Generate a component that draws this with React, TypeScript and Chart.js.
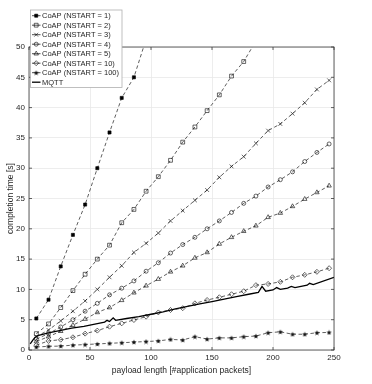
import React, { useEffect, useRef } from "react";
import { Chart, registerables } from "chart.js";

Chart.register(...registerables);

// ---- data ----
const coapX = [6, 16, 26, 36, 46, 56, 66, 76, 86, 96, 106, 116, 126, 136, 146, 156, 166, 176, 186, 196, 206, 216, 226, 236, 246];

const nstart1 = [5.2, 8.3, 13.8, 19.0, 24.0, 30.0, 35.9, 41.6, 45.0, 51.3];
const nstart2 = [2.7, 4.3, 7.0, 9.8, 12.5, 15.0, 17.3, 21.0, 23.2, 26.2, 28.6, 31.3, 34.3, 36.8, 39.5, 42.1, 45.2, 47.6, 51.0];
const nstart3 = [2.2, 3.3, 4.8, 6.4, 8.1, 10.0, 12.0, 13.9, 16.1, 17.6, 19.3, 21.3, 23.0, 24.7, 26.4, 28.5, 30.3, 31.9, 34.1, 36.2, 37.3, 39.0, 40.8, 43.0, 44.5];
const nstart4 = [1.8, 2.7, 3.8, 5.0, 6.4, 7.7, 9.1, 10.2, 11.4, 13.0, 14.4, 16.0, 17.4, 18.6, 20.0, 21.3, 22.7, 24.2, 25.4, 26.9, 28.1, 29.4, 31.1, 32.6, 34.0];
const nstart5 = [1.4, 2.2, 3.1, 4.1, 5.1, 6.2, 7.0, 8.2, 9.45, 10.6, 11.7, 12.9, 13.9, 15.2, 16.1, 17.5, 18.6, 19.6, 20.5, 21.9, 22.6, 23.7, 24.9, 26.0, 27.1];
const nstart10 = [0.8, 1.5, 1.7, 2.1, 2.7, 3.2, 3.85, 4.4, 4.95, 5.5, 6.2, 6.6, 6.9, 7.7, 8.25, 8.7, 9.2, 9.7, 10.7, 10.9, 11.25, 12.0, 12.4, 12.9, 13.5];
const nstart100 = [0.5, 0.6, 0.65, 0.8, 0.9, 1.0, 1.1, 1.2, 1.3, 1.4, 1.5, 1.75, 1.65, 2.2, 1.8, 2.0, 2.0, 2.2, 2.3, 2.85, 3.0, 2.6, 2.6, 2.85, 2.9];

const mqttX = [1, 3, 5, 8, 15, 25, 35, 45, 55, 62, 64, 66, 69, 71, 80, 90, 100, 110, 120, 130, 140, 150, 160, 170, 180, 188, 191, 194, 200, 203, 206, 212, 215, 218, 228, 230, 233, 250];
const mqttY = [1.0, 1.6, 2.1, 2.4, 2.8, 3.2, 3.6, 3.9, 4.3, 4.6, 4.9, 4.7, 5.3, 4.9, 5.2, 5.5, 5.9, 6.3, 6.8, 7.2, 7.6, 8.0, 8.4, 8.8, 9.2, 9.5, 10.5, 9.7, 9.9, 10.3, 10.0, 10.2, 10.5, 10.3, 10.7, 11.0, 10.8, 12.0];

const xTicks = [0, 50, 100, 150, 200, 250];
const yTicks = [0, 5, 10, 15, 20, 25, 30, 35, 40, 45, 50];

const seriesLabels = [
  "CoAP (NSTART = 1)",
  "CoAP (NSTART = 2)",
  "CoAP (NSTART = 3)",
  "CoAP (NSTART = 4)",
  "CoAP (NSTART = 5)",
  "CoAP (NSTART = 10)",
  "CoAP (NSTART = 100)",
  "MQTT",
];

const FONT = "'Liberation Sans', Arial, Helvetica, sans-serif";
const TEXT = "#262626";

function makeStar(size: number): HTMLCanvasElement {
  const c = document.createElement("canvas");
  c.width = size;
  c.height = size;
  const g = c.getContext("2d")!;
  const cx = size / 2, cy = size / 2 + 0.3;
  const ro = size / 2 - 0.2, ri = ro * 0.42;
  g.beginPath();
  for (let i = 0; i < 10; i++) {
    const r = i % 2 === 0 ? ro : ri;
    const a = -Math.PI / 2 + (i * Math.PI) / 5;
    const px = cx + r * Math.cos(a), py = cy + r * Math.sin(a);
    if (i === 0) g.moveTo(px, py); else g.lineTo(px, py);
  }
  g.closePath();
  g.fillStyle = "#111";
  g.fill();
  return c;
}

type Marker = { style: any; radius: number; filled: boolean };

function drawMarker(ctx: CanvasRenderingContext2D, m: Marker, x: number, y: number) {
  ctx.save();
  ctx.strokeStyle = "#000";
  ctx.fillStyle = "#000";
  ctx.lineWidth = 0.6;
  const r = m.radius;
  if (m.style instanceof HTMLCanvasElement) {
    ctx.drawImage(m.style, x - m.style.width / 2, y - m.style.height / 2);
    ctx.restore();
    return;
  }
  ctx.beginPath();
  switch (m.style) {
    case "rect": {
      const s = r * Math.SQRT1_2;
      ctx.rect(x - s, y - s, 2 * s, 2 * s);
      break;
    }
    case "rectRot": {
      ctx.moveTo(x, y - r); ctx.lineTo(x + r, y); ctx.lineTo(x, y + r); ctx.lineTo(x - r, y); ctx.closePath();
      break;
    }
    case "circle":
      ctx.arc(x, y, r, 0, Math.PI * 2);
      break;
    case "triangle": {
      ctx.moveTo(x, y - r); ctx.lineTo(x + r * 0.866, y + r * 0.5); ctx.lineTo(x - r * 0.866, y + r * 0.5); ctx.closePath();
      break;
    }
    case "crossRot": {
      const s = r * Math.SQRT1_2;
      ctx.moveTo(x - s, y - s); ctx.lineTo(x + s, y + s);
      ctx.moveTo(x + s, y - s); ctx.lineTo(x - s, y + s);
      break;
    }
  }
  if (m.filled) ctx.fill();
  ctx.stroke();
  ctx.restore();
}

export default function App() {
  const ref = useRef<HTMLCanvasElement | null>(null);

  useEffect(() => {
    document.body.style.margin = "0";
    const star = makeStar(6);
    const markers: (Marker | null)[] = [
      { style: "rect", radius: 2.2, filled: true },
      { style: "rect", radius: 2.7, filled: false },
      { style: "crossRot", radius: 2.7, filled: false },
      { style: "circle", radius: 2.0, filled: false },
      { style: "triangle", radius: 2.6, filled: false },
      { style: "rectRot", radius: 2.5, filled: false },
      { style: star, radius: 3.0, filled: true },
      null,
    ];
    const coapSeries = [nstart1, nstart2, nstart3, nstart4, nstart5, nstart10, nstart100];

    const datasets: any[] = coapSeries.map((vals, i) => {
      const m = markers[i]!;
      return {
        label: seriesLabels[i],
        data: vals.map((v, k) => ({ x: coapX[k], y: v })),
        borderColor: "#1a1a1a",
        borderWidth: 0.7,
        borderDash: [3.5, 2.5],
        pointStyle: m.style,
        pointRadius: m.radius,
        pointBorderWidth: 0.6,
        pointBorderColor: "#000",
        pointBackgroundColor: m.filled ? "#000" : "rgba(0,0,0,0)",
        fill: false,
        tension: 0,
      };
    });
    datasets.push({
      label: seriesLabels[7],
      data: mqttY.map((v, k) => ({ x: mqttX[k], y: v })),
      borderColor: "#000",
      borderWidth: 1.3,
      pointRadius: 0,
      fill: false,
      tension: 0,
    });

    const framePlugin = {
      id: "frame",
      afterDatasetsDraw(chart: any) {
        const { ctx, chartArea: a, scales } = chart;
        ctx.save();
        ctx.strokeStyle = "#3a3a3a";
        ctx.lineWidth = 0.8;
        ctx.strokeRect(a.left, a.top, a.right - a.left, a.bottom - a.top);
        ctx.beginPath();
        xTicks.forEach((t) => {
          const px = scales.x.getPixelForValue(t);
          ctx.moveTo(px, a.bottom); ctx.lineTo(px, a.bottom - 3);
          ctx.moveTo(px, a.top); ctx.lineTo(px, a.top + 3);
        });
        yTicks.forEach((t) => {
          const py = scales.y.getPixelForValue(t);
          ctx.moveTo(a.left, py); ctx.lineTo(a.left + 3, py);
          ctx.moveTo(a.right, py); ctx.lineTo(a.right - 3, py);
        });
        ctx.stroke();
        ctx.restore();
      },
      afterDraw(chart: any) {
        const ctx: CanvasRenderingContext2D = chart.ctx;
        const bx = 30.5, by = 10, bw = 91.5, bh = 77.5;
        ctx.save();
        ctx.fillStyle = "#fff";
        ctx.fillRect(bx, by, bw, bh);
        ctx.strokeStyle = "#b0b0b0";
        ctx.lineWidth = 0.8;
        ctx.strokeRect(bx, by, bw, bh);
        ctx.font = `7.5px ${FONT}`;
        ctx.textBaseline = "middle";
        ctx.fillStyle = TEXT;
        seriesLabels.forEach((lab, i) => {
          const y = 15.7 + i * 9.5;
          ctx.save();
          ctx.strokeStyle = "#000";
          ctx.lineWidth = i === 7 ? 1.3 : 0.7;
          ctx.beginPath();
          ctx.moveTo(32, y);
          ctx.lineTo(40.5, y);
          ctx.stroke();
          ctx.restore();
          const m = markers[i];
          if (m) drawMarker(ctx, m, 36.2, y);
          ctx.fillStyle = TEXT;
          ctx.fillText(lab, 42, y + 0.3);
        });
        ctx.restore();
      },
    };

    const chart = new Chart(ref.current!, {
      type: "line",
      data: { datasets },
      plugins: [framePlugin],
      options: {
        animation: false,
        responsive: false,
        devicePixelRatio: 1,
        layout: { padding: { top: 47, right: 38, left: 0, bottom: 0 } },
        plugins: { legend: { display: false }, tooltip: { enabled: false } },
        scales: {
          x: {
            type: "linear",
            min: 0,
            max: 250,
            afterFit: (s: any) => { s.height = 34; },
            afterBuildTicks: (s: any) => { s.ticks = xTicks.map((v) => ({ value: v })); },
            ticks: { color: TEXT, font: { family: FONT, size: 8 }, padding: 3, maxRotation: 0 },
            grid: { color: "#e8e8e8", lineWidth: 0.8, drawTicks: false },
            border: { display: false },
            title: {
              display: true,
              text: "payload length [#application packets]",
              color: TEXT,
              font: { family: FONT, size: 8.5 },
              padding: { top: 0, bottom: 8 },
            },
          },
          y: {
            type: "linear",
            min: 0,
            max: 50,
            afterFit: (s: any) => { s.width = 29; },
            afterBuildTicks: (s: any) => { s.ticks = yTicks.map((v) => ({ value: v })); },
            ticks: { color: TEXT, font: { family: FONT, size: 8 }, padding: 4 },
            grid: { color: "#e8e8e8", lineWidth: 0.8, drawTicks: false },
            border: { display: false },
            title: {
              display: true,
              text: "completion time [s]",
              color: TEXT,
              font: { family: FONT, size: 8.5 },
              padding: { top: 6, bottom: 0 },
            },
          },
        },
      } as any,
    });
    return () => chart.destroy();
  }, []);

  return (
    <div style={{ width: 372, height: 384 }}>
      <canvas ref={ref} width={372} height={384} />
    </div>
  );
}
